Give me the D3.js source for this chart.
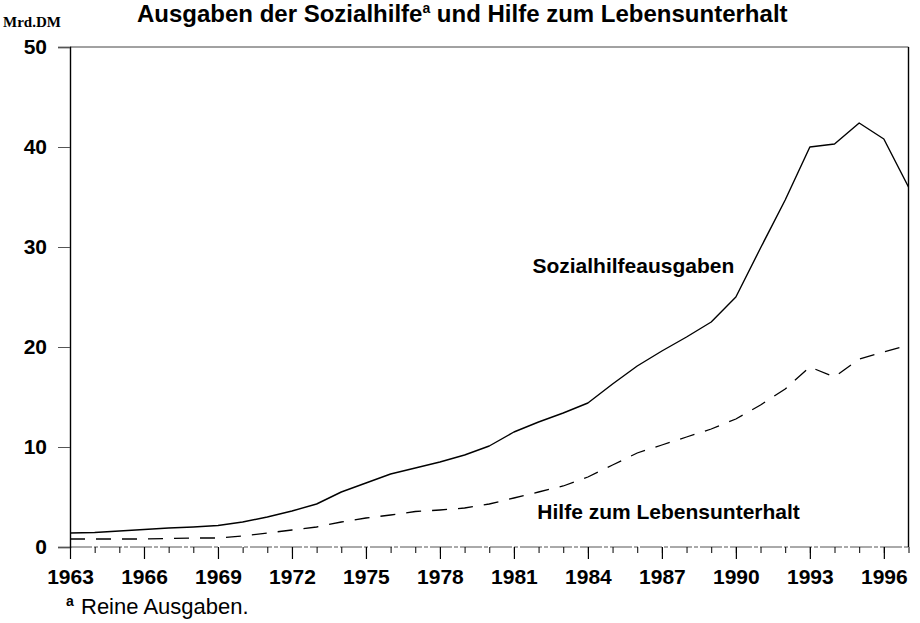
<!DOCTYPE html>
<html>
<head>
<meta charset="utf-8">
<script src="https://cdn.jsdelivr.net/npm/d3@7"></script>
<style>
  html, body { margin: 0; padding: 0; background: #fff; }
  svg { display: block; }
  text { font-family: "Liberation Sans", Arial, Helvetica, sans-serif; fill: #000; }
</style>
</head>
<body>
<svg id="chart" width="920" height="623"></svg>
<script>
// ---- data ----
const years = [1963,1964,1965,1966,1967,1968,1969,1970,1971,1972,1973,1974,1975,1976,1977,1978,1979,1980,
               1981,1982,1983,1984,1985,1986,1987,1988,1989,1990,1991,1992,1993,1994,1995,1996,1997];
const sozialhilfe = [1.4,1.45,1.6,1.75,1.9,2.0,2.15,2.5,3.0,3.6,4.3,5.5,6.4,7.3,7.9,8.5,9.2,10.1,
                     11.5,12.5,13.4,14.4,16.3,18.1,19.6,21.0,22.5,25.0,29.9,34.7,40.0,40.3,42.4,40.8,36.0];
const hilfeLU = [0.8,0.8,0.8,0.8,0.85,0.9,0.9,1.1,1.4,1.7,2.0,2.5,2.9,3.2,3.55,3.7,3.9,4.3,
                 4.9,5.5,6.1,7.0,8.2,9.4,10.2,11.0,11.8,12.8,14.2,15.8,18.0,17.0,18.8,19.5,20.2];
const yTicks = [0,10,20,30,40,50];
const xTickLabels = [1963,1966,1969,1972,1975,1978,1981,1984,1987,1990,1993,1996];
const minorTicks = years;
const title = "Ausgaben der Sozialhilfe";
const titleSup = "a";
const titleRest = " und Hilfe zum Lebensunterhalt";
const unitLabel = "Mrd.DM";
const seriesLabels = [
  {text: "Sozialhilfeausgaben", year: 1981.75, value: 27.4},
  {text: "Hilfe zum Lebensunterhalt", year: 1981.95, value: 2.8}
];
const footnote = "Reine Ausgaben.";

// ---- layout ----
const svg = d3.select("#chart");
const x = d3.scaleLinear().domain([1963, 1997]).range([70, 908.5]);
const y = d3.scaleLinear().domain([0, 50]).range([547, 47]);

// frame: top and bottom
svg.append("line").attr("x1", x(1963)).attr("x2", x(1997)).attr("y1", y(50)).attr("y2", y(50))
  .attr("stroke", "#444").attr("stroke-width", 1);
svg.append("line").attr("x1", x(1963)).attr("x2", x(1997)).attr("y1", y(0)).attr("y2", y(0))
  .attr("stroke", "#555").attr("stroke-width", 1).attr("stroke-dasharray", "22,2,4,2");
// right border
svg.append("line").attr("x1", x(1997)).attr("x2", x(1997)).attr("y1", y(50)).attr("y2", y(0))
  .attr("stroke", "#000").attr("stroke-width", 1.4);

// y axis
const yAxis = d3.axisLeft(y).tickValues(yTicks).tickSize(12).tickPadding(11).tickFormat(d3.format("d"));
const gy = svg.append("g").attr("transform", `translate(${x(1963)},0)`).call(yAxis);
gy.select(".domain").attr("stroke", "#000").attr("stroke-width", 1.4);
gy.selectAll(".tick line").attr("stroke", "#555").attr("stroke-width", 1);
gy.selectAll(".tick text").style("font-size", "21px").style("font-weight", "bold")
  .style("font-family", "'Liberation Sans', Arial, sans-serif").attr("fill", "#000");

// x axis: minor ticks
const xMinor = d3.axisBottom(x).tickValues(minorTicks).tickSize(6).tickFormat("");
const gxm = svg.append("g").attr("transform", `translate(0,${y(0)})`).call(xMinor);
gxm.select(".domain").remove();
gxm.selectAll(".tick line").attr("stroke", "#000").attr("stroke-width", 1);

// x axis: major ticks with labels
const xAxis = d3.axisBottom(x).tickValues(xTickLabels).tickSize(12).tickPadding(10).tickFormat(d3.format("d"));
const gx = svg.append("g").attr("transform", `translate(0,${y(0)})`).call(xAxis);
gx.select(".domain").remove();
gx.selectAll(".tick line").attr("stroke", "#000").attr("stroke-width", 1.2);
gx.selectAll(".tick text").style("font-size", "21px").style("font-weight", "bold")
  .style("font-family", "'Liberation Sans', Arial, sans-serif").attr("fill", "#000");

// lines
const line = d3.line().x((d, i) => x(years[i])).y(d => y(d));
svg.append("path").datum(sozialhilfe).attr("d", line)
  .attr("fill", "none").attr("stroke", "#000").attr("stroke-width", 1.4).attr("stroke-linejoin", "round");
svg.append("path").datum(hilfeLU).attr("d", line)
  .attr("fill", "none").attr("stroke", "#000").attr("stroke-width", 1.3)
  .attr("stroke-dasharray", "15,11");

// series labels
svg.selectAll("text.series").data(seriesLabels).enter().append("text")
  .attr("class", "series")
  .attr("x", d => x(d.year)).attr("y", d => y(d.value))
  .style("font-size", "21px").style("font-weight", "bold")
  .text(d => d.text);

// title
const t = svg.append("text").attr("x", 137).attr("y", 22).style("font-size", "24px").style("font-weight", "bold");
t.append("tspan").text(title);
t.append("tspan").attr("dy", -9).style("font-size", "14px").text(titleSup);
t.append("tspan").attr("dy", 9).text(titleRest);

// unit label
svg.append("text").attr("x", 3).attr("y", 27)
  .style("font-family", "'Liberation Serif', 'Times New Roman', serif")
  .style("font-size", "15px").style("font-weight", "bold").text(unitLabel);

// footnote
svg.append("text").attr("x", 66).attr("y", 606).style("font-size", "14px").style("font-weight", "bold").text("a");
svg.append("text").attr("x", 81).attr("y", 614).style("font-size", "22px").text(footnote);
</script>
</body>
</html>
